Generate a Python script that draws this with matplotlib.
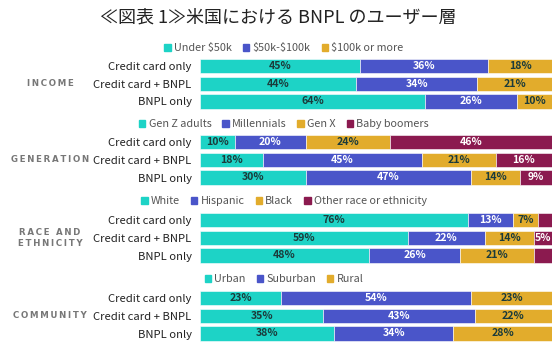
import matplotlib.pyplot as plt
from matplotlib.patches import Patch

plt.rcParams['font.family'] = ['Noto Sans CJK JP', 'DejaVu Sans']
plt.rcParams['text.parse_math'] = False

title = "≪図表 1≫米国における BNPL のユーザー層"
rows = ["Credit card only", "Credit card + BNPL", "BNPL only"]

income_names = ["Under $50k", "$50k-$100k", "$100k or more"]
income_vals = [[45, 36, 18], [44, 34, 21], [64, 26, 10]]

gen_names = ["Gen Z adults", "Millennials", "Gen X", "Baby boomers"]
gen_vals = [[10, 20, 24, 46], [18, 45, 21, 16], [30, 47, 14, 9]]

race_names = ["White", "Hispanic", "Black", "Other race or ethnicity"]
race_vals = [[76, 13, 7, 4], [59, 22, 14, 5], [48, 26, 21, 5]]
race_show = [[True, True, True, False], [True, True, True, True], [True, True, True, False]]

comm_names = ["Urban", "Suburban", "Rural"]
comm_vals = [[23, 54, 23], [35, 43, 22], [38, 34, 28]]

groups = [
    ("INCOME", income_names, income_vals, None),
    ("GENERATION", gen_names, gen_vals, None),
    ("RACE AND\nETHNICITY", race_names, race_vals, race_show),
    ("COMMUNITY", comm_names, comm_vals, None),
]

colors = ["#1dd3c6", "#4a55c9", "#e2ac2c", "#8b1a4f"]
text_colors = ["#1b3b3b", "white", "#1b3b3b", "white"]


def spaced(s):
    # widen letter spacing like the original's small caps labels
    return "\n".join("\u2009".join(line) for line in s.split("\n"))


W, H = 556, 343
fig = plt.figure(figsize=(W / 100, H / 100), dpi=100)
fig.text(0.5, 1 - 17 / H, title, ha="center", va="center", fontsize=13, color="#222222")

# top pixel of the first bar row in each block and legend row
bar_tops = [57, 133, 211, 289]
legend_y = [48, 124, 201, 279]
row_h = 17.8
left, right = 200, 552

for (gname, names, vals, show), top, ly in zip(groups, bar_tops, legend_y):
    ax = fig.add_axes([left / W, 1 - (top + 3 * row_h) / H, (right - left) / W, 3 * row_h / H])
    for i, row in enumerate(vals):
        total = sum(row)
        start = 0
        for j, v in enumerate(row):
            w = v / total
            ax.barh(i, w, left=start, height=0.8, color=colors[j], edgecolor="white", linewidth=0.4)
            if show is None or show[i][j]:
                ax.text(start + w / 2, i, f"{v}%", ha="center", va="center",
                        fontsize=7.6, fontweight="bold", color=text_colors[j])
            start += w
    ax.set_xlim(0, 1)
    ax.set_ylim(2.5, -0.5)
    ax.set_yticks(range(3))
    ax.set_yticklabels(rows, fontsize=8.1, color="#222222")
    ax.tick_params(axis="y", length=0, pad=6)
    ax.set_xticks([])
    for s in ax.spines.values():
        s.set_visible(False)
    fig.text(50 / W, 1 - (top + 1.5 * row_h) / H, spaced(gname), ha="center", va="center",
             fontsize=6.2, fontweight="bold", color="#777777", linespacing=1.3,
             family="DejaVu Sans")
    handles = [Patch(color=colors[k]) for k in range(len(names))]
    fig.legend(handles, names, loc="center", bbox_to_anchor=(284 / W, 1 - ly / H), ncol=len(names),
               frameon=False, fontsize=7.8, handlelength=0.6, handleheight=0.6,
               handletextpad=0.3, columnspacing=1.0, labelcolor="#555555")

fig.savefig("out.png", dpi=100)
